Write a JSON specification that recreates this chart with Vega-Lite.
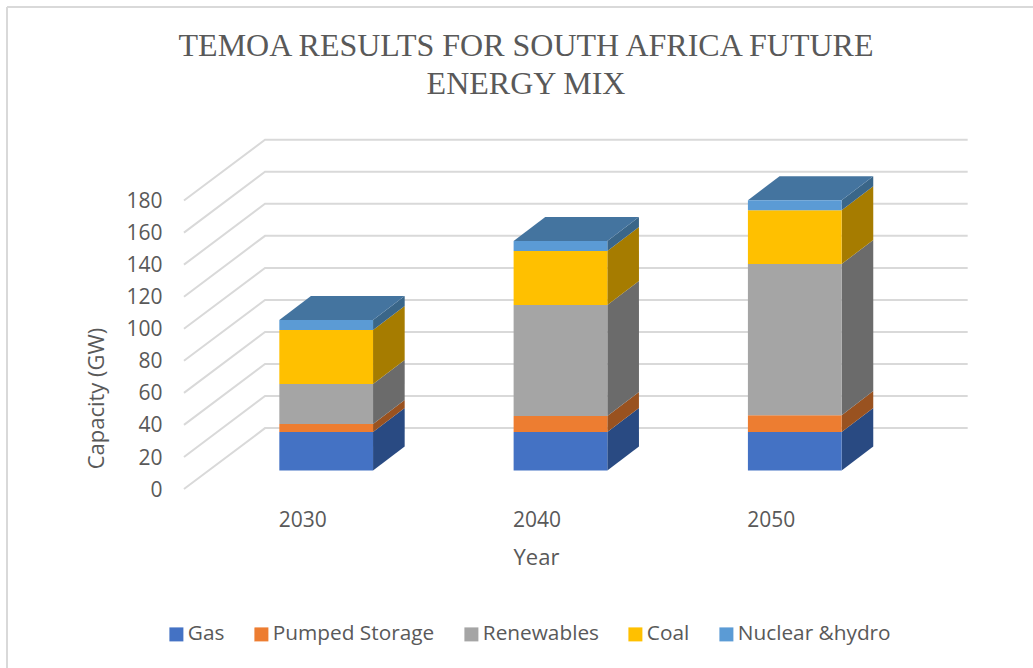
{
"$schema":"https://vega.github.io/schema/vega-lite/v6.json",
"width":1026,"height":661,
"autosize":{"type":"none"},
"padding":{"left":7,"top":7,"right":0,"bottom":0},
"background":"white",
"config":{"view":{"stroke":null},"font":"Open Sans"},
"title":{"text":["TEMOA RESULTS FOR SOUTH AFRICA FUTURE","ENERGY MIX"],"font":"Liberation Serif","fontSize":32,"fontWeight":"normal","color":"#595959","anchor":"middle","frame":"group","lineHeight":38,"dx":6,"offset":-120,"baseline":"alphabetic"},
"datasets":{
"grid":[
{"level":0,"x":2023.93,"y":-11.5},{"level":0,"x":2027.39,"y":26.5},{"level":0,"x":2057.38,"y":26.5},
{"level":20,"x":2023.93,"y":8.5},{"level":20,"x":2027.39,"y":46.5},{"level":20,"x":2057.38,"y":46.5},
{"level":40,"x":2023.93,"y":28.5},{"level":40,"x":2027.39,"y":66.5},{"level":40,"x":2057.38,"y":66.5},
{"level":60,"x":2023.93,"y":48.5},{"level":60,"x":2027.39,"y":86.5},{"level":60,"x":2057.38,"y":86.5},
{"level":80,"x":2023.93,"y":68.5},{"level":80,"x":2027.39,"y":106.5},{"level":80,"x":2057.38,"y":106.5},
{"level":100,"x":2023.93,"y":88.5},{"level":100,"x":2027.39,"y":126.5},{"level":100,"x":2057.38,"y":126.5},
{"level":120,"x":2023.93,"y":108.5},{"level":120,"x":2027.39,"y":146.5},{"level":120,"x":2057.38,"y":146.5},
{"level":140,"x":2023.93,"y":128.5},{"level":140,"x":2027.39,"y":166.5},{"level":140,"x":2057.38,"y":166.5},
{"level":160,"x":2023.93,"y":148.5},{"level":160,"x":2027.39,"y":186.5},{"level":160,"x":2057.38,"y":186.5},
{"level":180,"x":2023.93,"y":168.5},{"level":180,"x":2027.39,"y":206.5},{"level":180,"x":2057.38,"y":206.5}
],
"front":[
{"year":2030,"series":"Gas","x0":2028,"x1":2032,"y0":0,"y1":24},
{"year":2030,"series":"Pumped Storage","x0":2028,"x1":2032,"y0":24,"y1":29},
{"year":2030,"series":"Renewables","x0":2028,"x1":2032,"y0":29,"y1":54},
{"year":2030,"series":"Coal","x0":2028,"x1":2032,"y0":54,"y1":87.7},
{"year":2030,"series":"Nuclear &hydro","x0":2028,"x1":2032,"y0":87.7,"y1":94},
{"year":2040,"series":"Gas","x0":2038,"x1":2042,"y0":0,"y1":24},
{"year":2040,"series":"Pumped Storage","x0":2038,"x1":2042,"y0":24,"y1":34},
{"year":2040,"series":"Renewables","x0":2038,"x1":2042,"y0":34,"y1":103.3},
{"year":2040,"series":"Coal","x0":2038,"x1":2042,"y0":103.3,"y1":137},
{"year":2040,"series":"Nuclear &hydro","x0":2038,"x1":2042,"y0":137,"y1":143.2},
{"year":2050,"series":"Gas","x0":2048,"x1":2052,"y0":0,"y1":24},
{"year":2050,"series":"Pumped Storage","x0":2048,"x1":2052,"y0":24,"y1":34.6},
{"year":2050,"series":"Renewables","x0":2048,"x1":2052,"y0":34.6,"y1":128.9},
{"year":2050,"series":"Coal","x0":2048,"x1":2052,"y0":128.9,"y1":162.5},
{"year":2050,"series":"Nuclear &hydro","x0":2048,"x1":2052,"y0":162.5,"y1":168.7}
],
"side":[
{"year":2030,"series":"Gas","x":2032,"y0":0,"y1":24},{"year":2030,"series":"Gas","x":2033.35,"y0":15,"y1":39},
{"year":2030,"series":"Pumped Storage","x":2032,"y0":24,"y1":29},{"year":2030,"series":"Pumped Storage","x":2033.35,"y0":39,"y1":44},
{"year":2030,"series":"Renewables","x":2032,"y0":29,"y1":54},{"year":2030,"series":"Renewables","x":2033.35,"y0":44,"y1":69},
{"year":2030,"series":"Coal","x":2032,"y0":54,"y1":87.7},{"year":2030,"series":"Coal","x":2033.35,"y0":69,"y1":102.7},
{"year":2030,"series":"Nuclear &hydro","x":2032,"y0":87.7,"y1":94},{"year":2030,"series":"Nuclear &hydro","x":2033.35,"y0":102.7,"y1":109},
{"year":2040,"series":"Gas","x":2042,"y0":0,"y1":24},{"year":2040,"series":"Gas","x":2043.35,"y0":15,"y1":39},
{"year":2040,"series":"Pumped Storage","x":2042,"y0":24,"y1":34},{"year":2040,"series":"Pumped Storage","x":2043.35,"y0":39,"y1":49},
{"year":2040,"series":"Renewables","x":2042,"y0":34,"y1":103.3},{"year":2040,"series":"Renewables","x":2043.35,"y0":49,"y1":118.3},
{"year":2040,"series":"Coal","x":2042,"y0":103.3,"y1":137},{"year":2040,"series":"Coal","x":2043.35,"y0":118.3,"y1":152},
{"year":2040,"series":"Nuclear &hydro","x":2042,"y0":137,"y1":143.2},{"year":2040,"series":"Nuclear &hydro","x":2043.35,"y0":152,"y1":158.2},
{"year":2050,"series":"Gas","x":2052,"y0":0,"y1":24},{"year":2050,"series":"Gas","x":2053.35,"y0":15,"y1":39},
{"year":2050,"series":"Pumped Storage","x":2052,"y0":24,"y1":34.6},{"year":2050,"series":"Pumped Storage","x":2053.35,"y0":39,"y1":49.6},
{"year":2050,"series":"Renewables","x":2052,"y0":34.6,"y1":128.9},{"year":2050,"series":"Renewables","x":2053.35,"y0":49.6,"y1":143.9},
{"year":2050,"series":"Coal","x":2052,"y0":128.9,"y1":162.5},{"year":2050,"series":"Coal","x":2053.35,"y0":143.9,"y1":177.5},
{"year":2050,"series":"Nuclear &hydro","x":2052,"y0":162.5,"y1":168.7},{"year":2050,"series":"Nuclear &hydro","x":2053.35,"y0":177.5,"y1":183.7}
],
"top":[
{"year":2030,"x":2028,"y0":94,"y1":94},{"year":2030,"x":2029.35,"y0":94,"y1":109},{"year":2030,"x":2032,"y0":94,"y1":109},{"year":2030,"x":2033.35,"y0":109,"y1":109},
{"year":2040,"x":2038,"y0":143.2,"y1":143.2},{"year":2040,"x":2039.35,"y0":143.2,"y1":158.2},{"year":2040,"x":2042,"y0":143.2,"y1":158.2},{"year":2040,"x":2043.35,"y0":158.2,"y1":158.2},
{"year":2050,"x":2048,"y0":168.7,"y1":168.7},{"year":2050,"x":2049.35,"y0":168.7,"y1":183.7},{"year":2050,"x":2052,"y0":168.7,"y1":183.7},{"year":2050,"x":2053.35,"y0":183.7,"y1":183.7}
]
},
"resolve":{"scale":{"color":"independent"}},
"layer":[
{"data":{"name":"grid"},
 "mark":{"type":"line","stroke":"#d9d9d9","strokeWidth":2},
 "encoding":{
  "x":{"field":"x","type":"quantitative","scale":{"domain":[2016.377,2060.168],"nice":false,"zero":false},
   "axis":{"title":"Year","values":[2030,2040,2050],"format":"d","grid":false,"domain":false,"ticks":false,"orient":"bottom","offset":-159,"labelPadding":0,"labelOffset":-24,"labelFont":"Open Sans","labelFontSize":21,"labelColor":"#595959","labelBaseline":"top","titleFont":"Open Sans","titleFontSize":22,"titleFontWeight":"normal","titleColor":"#595959","titleX":529,"titleY":55,"titleBaseline":"alphabetic"}},
  "y":{"field":"y","type":"quantitative","stack":null,"scale":{"domain":[-123.2,289.3],"nice":false,"zero":false},
   "axis":{"title":"Capacity (GW)","values":[0,20,40,60,80,100,120,140,160,180],"format":"d","grid":false,"domain":false,"ticks":false,"offset":-155,"labelPadding":0,"labelOffset":19.5,"labelFont":"Open Sans","labelFontSize":21,"labelColor":"#595959","labelBaseline":"middle","titleFont":"Open Sans","titleFontSize":22,"titleFontWeight":"normal","titleColor":"#595959","titleX":-59,"titleY":391,"titleAngle":-90,"titleBaseline":"alphabetic"}},
  "detail":{"field":"level","type":"nominal"}
 }},
{"data":{"values":[{"edge":289.3}]},"mark":{"type":"rule","stroke":"#d9d9d9","strokeWidth":2},"encoding":{"y":{"field":"edge","type":"quantitative"}}},
{"data":{"values":[{"edge":2016.377}]},"mark":{"type":"rule","stroke":"#d9d9d9","strokeWidth":2},"encoding":{"x":{"field":"edge","type":"quantitative"}}},
{"data":{"name":"side"},
 "mark":{"type":"area","interpolate":"linear","opacity":1},
 "encoding":{
  "x":{"field":"x","type":"quantitative"},
  "y":{"field":"y0","type":"quantitative","stack":null},
  "y2":{"field":"y1"},
  "detail":{"field":"year","type":"nominal"},
  "color":{"field":"series","type":"nominal","legend":null,"scale":{"domain":["Gas","Pumped Storage","Renewables","Coal","Nuclear &hydro"],"range":["#294a82","#995220","#6b6b6b","#a67c00","#3a6689"]}}
 }},
{"data":{"name":"top"},
 "mark":{"type":"area","interpolate":"linear","opacity":1,"color":"#44749f"},
 "encoding":{
  "x":{"field":"x","type":"quantitative"},
  "y":{"field":"y0","type":"quantitative","stack":null},
  "y2":{"field":"y1"},
  "detail":{"field":"year","type":"nominal"}
 }},
{"data":{"name":"front"},
 "mark":{"type":"rect"},
 "encoding":{
  "x":{"field":"x0","type":"quantitative"},
  "x2":{"field":"x1"},
  "y":{"field":"y0","type":"quantitative","stack":null},
  "y2":{"field":"y1"},
  "color":{"field":"series","type":"nominal","scale":{"domain":["Gas","Pumped Storage","Renewables","Coal","Nuclear &hydro"],"range":["#4472c4","#ed7d31","#a5a5a5","#ffc000","#5b9bd5"]},
   "legend":{"title":null,"orient":"none","direction":"horizontal","legendX":159,"legendY":617,"symbolType":"square","symbolSize":196,"symbolStrokeWidth":0,"labelFont":"Open Sans","labelFontSize":20.8,"labelLimit":400,"labelColor":"#595959","labelOffset":1,"columnPadding":26,"gridAlign":"none","columns":5,"padding":0}}
 }}
]
}
